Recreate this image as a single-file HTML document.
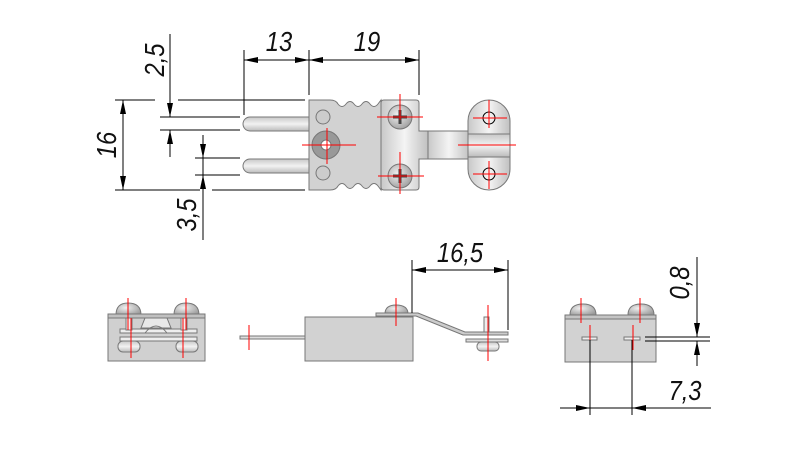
<!DOCTYPE html>
<html><head><meta charset="utf-8"><style>
html,body{margin:0;padding:0;background:#fff;}
svg{display:block;}
text{font-family:"Liberation Sans",sans-serif;font-style:italic;font-size:28px;fill:#111;}
</style></head><body>
<svg width="800" height="450" viewBox="0 0 800 450" xmlns="http://www.w3.org/2000/svg">
<defs>
<linearGradient id="g" x1="0" y1="0" x2="1" y2="0"><stop offset="0" stop-color="#c8c8c8"/><stop offset=".5" stop-color="#f4f4f4"/><stop offset="1" stop-color="#c0c0c0"/></linearGradient>
<linearGradient id="gv" x1="0" y1="0" x2="0" y2="1"><stop offset="0" stop-color="#c8c8c8"/><stop offset=".5" stop-color="#f2f2f2"/><stop offset="1" stop-color="#bbb"/></linearGradient>
<radialGradient id="sc" cx=".4" cy=".4" r=".7"><stop offset="0" stop-color="#f0f0f0"/><stop offset="1" stop-color="#999"/></radialGradient>
<marker id="a" viewBox="0 0 14 6" refX="14" refY="3" markerWidth="14" markerHeight="6" orient="auto" markerUnits="userSpaceOnUse"><path d="M0,0L14,3L0,6z" fill="#000"/></marker>
</defs>
<g stroke="#000" stroke-width="1" fill="none">
<line x1="244" y1="50" x2="244" y2="115"/><line x1="309" y1="50" x2="309" y2="95"/><line x1="419" y1="50" x2="419" y2="95"/>
<line x1="270" y1="60" x2="244" y2="60" marker-end="url(#a)"/><line x1="270" y1="60" x2="309" y2="60" marker-end="url(#a)"/>
<line x1="360" y1="60" x2="309" y2="60" marker-end="url(#a)"/><line x1="360" y1="60" x2="419" y2="60" marker-end="url(#a)"/>
<line x1="115" y1="100" x2="155" y2="100"/><line x1="178" y1="100" x2="305" y2="100"/>
<line x1="160" y1="117" x2="240" y2="117"/><line x1="160" y1="130" x2="240" y2="130"/>
<line x1="195" y1="158" x2="240" y2="158"/><line x1="195" y1="175" x2="240" y2="175"/>
<line x1="115" y1="190" x2="200" y2="190"/><line x1="212" y1="190" x2="305" y2="190"/>
<line x1="123" y1="140" x2="123" y2="100" marker-end="url(#a)"/><line x1="123" y1="140" x2="123" y2="190" marker-end="url(#a)"/>
<line x1="170" y1="34" x2="170" y2="117" marker-end="url(#a)"/><line x1="170" y1="140" x2="170" y2="130" marker-end="url(#a)"/><line x1="170" y1="140" x2="170" y2="157"/>
<line x1="203" y1="135" x2="203" y2="158" marker-end="url(#a)"/><line x1="203" y1="240" x2="203" y2="175" marker-end="url(#a)"/><line x1="203" y1="158" x2="203" y2="175"/>
</g>
<text transform="translate(279,51) scale(0.85,1)" text-anchor="middle">13</text>
<text transform="translate(367,51) scale(0.85,1)" text-anchor="middle">19</text>
<text transform="translate(116,145) rotate(-90) scale(0.85,1)" text-anchor="middle">16</text>
<text transform="translate(164,60) rotate(-90) scale(0.85,1)" text-anchor="middle">2,5</text>
<text transform="translate(196,215) rotate(-90) scale(0.85,1)" text-anchor="middle">3,5</text>
<g stroke="#777" stroke-width="1">
<path d="M250,117H309V131H250A7,7 0 0 1 250,117Z" fill="url(#gv)"/>
<path d="M250,159H309V173H250A7,7 0 0 1 250,159Z" fill="url(#gv)"/>
<path d="M309,100H330Q336,100 338,104Q342,109 346,104Q350,99 354,104Q358,109 362,104Q366,99 370,104Q374,109 378,104L381,100V190L378,186Q374,181 370,186Q366,191 362,186Q358,181 354,186Q350,191 346,186Q342,181 338,186Q336,190 330,190H309Z" fill="#d2d2d2"/>
<rect x="428" y="131" width="42" height="28" fill="url(#g)"/>
<path d="M381,103Q381,100 384,100H416Q419,100 419,103V131H428V159H419V187Q419,190 416,190H384Q381,190 381,187Z" fill="url(#g)"/>
<path d="M468,121A21,21 0 0 1 510,121V169A21,21 0 0 1 468,169Z" fill="url(#g)"/>
<rect x="468" y="134" width="42" height="23" fill="url(#gv)"/>
<circle cx="326" cy="145" r="14" fill="#999"/><circle cx="326" cy="145" r="5" fill="#fff"/>
<circle cx="323" cy="117" r="7" fill="#ccc"/><circle cx="323" cy="173" r="7" fill="#ccc"/>
<circle cx="400" cy="117" r="12" fill="url(#sc)"/><circle cx="400" cy="176" r="12" fill="url(#sc)"/>
<circle cx="489" cy="118" r="6" fill="none" stroke="#000"/><circle cx="489" cy="174" r="6" fill="none" stroke="#000"/>
</g>
<g stroke="#444" stroke-width="3"><path d="M393,117h14M400,110v14M393,176h14M400,169v14"/></g>
<g stroke="#f00" stroke-width="1">
<path d="M302,145h54M327,128v36M377,117h46M400,94v26M378,176h46M400,152v42M458,145h58M489,100v28M473,118h34M473,174h34M489,161v28"/>
</g>
<g stroke="#777" stroke-width="1">
<path d="M116,315Q116,303 128,303Q141,303 141,315Z" fill="url(#sc)"/>
<path d="M174,315Q174,303 186,303Q199,303 199,315Z" fill="url(#sc)"/>
<rect x="108" y="314" width="97" height="47" fill="#d0d0d0"/>
<rect x="108" y="314" width="97" height="4" fill="#c0c0c0"/>
<path d="M145,318h22l4,10h-30z" fill="#e8e8e8"/>
<rect x="120" y="329" width="77" height="4" fill="#eee"/><rect x="120" y="337" width="77" height="4" fill="#eee"/>
<path d="M145,333q11,-14 22,0" fill="none"/>
<rect x="118" y="341" width="22" height="11" rx="5" fill="url(#gv)"/><rect x="176" y="341" width="22" height="11" rx="5" fill="url(#gv)"/>
<rect x="126" y="318" width="6" height="12" fill="#eee"/><rect x="181" y="318" width="6" height="12" fill="#eee"/>
</g>
<g stroke="#f00"><path d="M128,298v32M131,318v40M186,298v32M183,318v40"/></g>
<g stroke="#777" stroke-width="1">
<rect x="240" y="336" width="66" height="3" fill="#ddd"/>
<rect x="305" y="317" width="108" height="44" fill="#d2d2d2"/>
<path d="M385,314Q385,305 396,305Q408,305 408,314Z" fill="url(#sc)"/>
<path d="M376,313H418L465,332H508V335H463L416,316H376Z" fill="#ccc"/>
<rect x="484" y="317" width="5" height="15" fill="#eee"/>
<rect x="466" y="339" width="42" height="3" fill="#ddd"/>
<rect x="477" y="342" width="22" height="9" rx="4" fill="url(#gv)"/>
</g>
<g stroke="#f00"><path d="M249,325v25M396,298v28M488,305v56"/></g>
<g stroke="#000" fill="none">
<line x1="412" y1="260" x2="412" y2="313"/><line x1="508" y1="260" x2="508" y2="330"/>
<line x1="460" y1="270" x2="412" y2="270" marker-end="url(#a)"/><line x1="460" y1="270" x2="508" y2="270" marker-end="url(#a)"/>
</g>
<text transform="translate(460,262) scale(0.85,1)" text-anchor="middle">16,5</text>
<g stroke="#777" stroke-width="1">
<path d="M570,315Q570,304 583,304Q596,304 596,315Z" fill="url(#sc)"/>
<path d="M628,315Q628,304 641,304Q654,304 654,315Z" fill="url(#sc)"/>
<rect x="565" y="315" width="91" height="47" fill="#d2d2d2"/>
<rect x="565" y="315" width="91" height="4" fill="#c4c4c4"/>
<rect x="582" y="337" width="15" height="3" fill="#eee"/><rect x="624" y="337" width="16" height="3" fill="#eee"/>
</g>
<g stroke="#f00"><path d="M581,298v25M640,298v25M590,325v25M633,325v25"/></g>
<g stroke="#000" fill="none">
<line x1="645" y1="337" x2="710" y2="337"/><line x1="645" y1="341" x2="710" y2="341"/>
<line x1="697" y1="257" x2="697" y2="337" marker-end="url(#a)"/><line x1="697" y1="366" x2="697" y2="341" marker-end="url(#a)"/>
<line x1="590" y1="340" x2="590" y2="415"/><line x1="632" y1="340" x2="632" y2="415"/>
<line x1="560" y1="408" x2="590" y2="408" marker-end="url(#a)"/><line x1="711" y1="408" x2="632" y2="408" marker-end="url(#a)"/>
<line x1="590" y1="408" x2="632" y2="408"/>
</g>
<text transform="translate(689,283) rotate(-90) scale(0.85,1)" text-anchor="middle">0,8</text>
<text transform="translate(685,400) scale(0.85,1)" text-anchor="middle">7,3</text>
</svg>
</body></html>
